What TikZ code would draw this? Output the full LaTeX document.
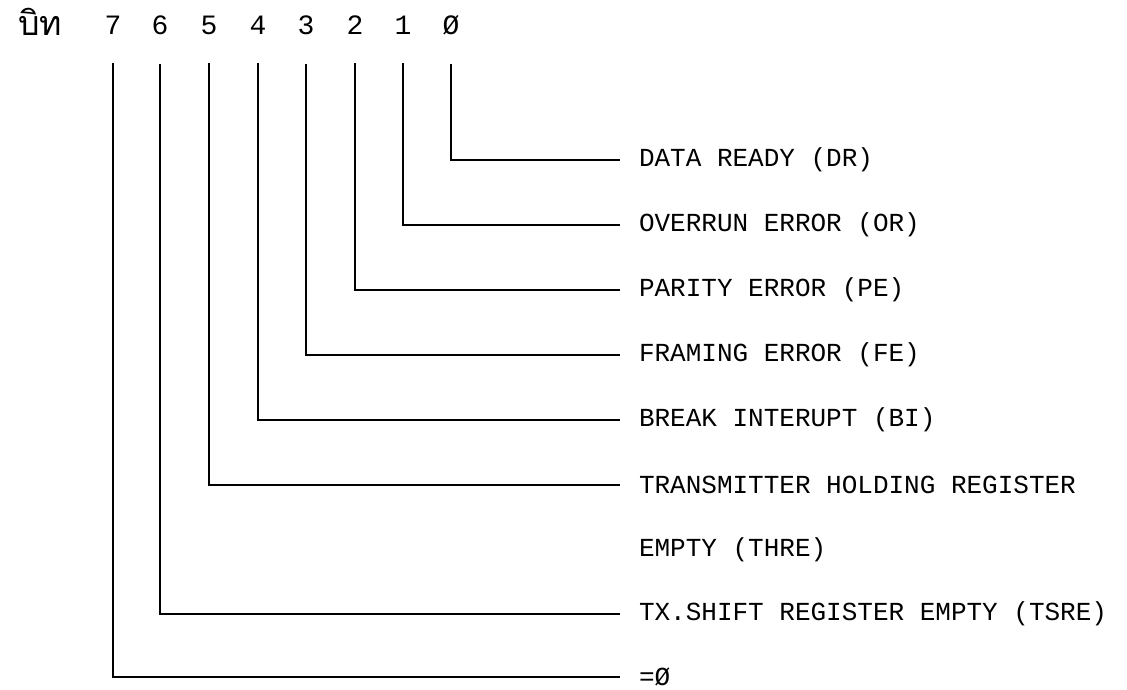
\documentclass[tikz,border=0pt]{standalone}
\usepackage{fontspec}
\setmonofont{Liberation Mono}
\newfontfamily\thaifont[Script=Thai]{Loma}
\usetikzlibrary{positioning}

\begin{document}
\begin{tikzpicture}[
  x=1pt, y=-1pt,
  line width=2pt,
  bitnum/.style={font=\ttfamily\fontsize{28}{28}\selectfont, inner sep=0pt},
  regname/.style={anchor=west, font=\ttfamily\fontsize{26}{28}\selectfont, inner xsep=18pt, inner ysep=0pt},
  bitline/.style={shorten <=28pt},
]
  \useasboundingbox (0,0) rectangle (1127,689);

  % header: bit numbers
  \node[font=\thaifont\fontsize{34}{34}\selectfont, inner sep=0pt] (bit) at (40,22) {บิท};
  \node[bitnum] (b7) at (113,25) {7};
  \node[bitnum] (b6) at (160,25) {6};
  \node[bitnum] (b5) at (209,25) {5};
  \node[bitnum] (b4) at (258,25) {4};
  \node[bitnum] (b3) at (306,25) {3};
  \node[bitnum] (b2) at (355,25) {2};
  \node[bitnum] (b1) at (403,25) {1};
  \node[bitnum] (b0) at (451,25) {Ø};

  % register flags
  \node[regname] (l0) at (620,160) {DATA READY (DR)};
  \node[regname] (l1) at (620,225) {OVERRUN ERROR (OR)};
  \node[regname] (l2) at (620,290) {PARITY ERROR (PE)};
  \node[regname] (l3) at (620,355) {FRAMING ERROR (FE)};
  \node[regname] (l4) at (620,420) {BREAK INTERUPT (BI)};
  \node[regname] (l5) at (620,485) {TRANSMITTER HOLDING REGISTER};
  \node[regname] (l5b) at (620,550) {EMPTY (THRE)};
  \node[regname] (l6) at (620,614) {TX.SHIFT REGISTER EMPTY (TSRE)};
  \node[regname] (l7) at (620,677) {=Ø};

  \draw[bitline] (b0.south) |- (l0.west);
  \draw[bitline] (b1.south) |- (l1.west);
  \draw[bitline] (b2.south) |- (l2.west);
  \draw[bitline] (b3.south) |- (l3.west);
  \draw[bitline] (b4.south) |- (l4.west);
  \draw[bitline] (b5.south) |- (l5.west);
  \draw[bitline] (b6.south) |- (l6.west);
  \draw[bitline] (b7.south) |- (l7.west);
\end{tikzpicture}
\end{document}
